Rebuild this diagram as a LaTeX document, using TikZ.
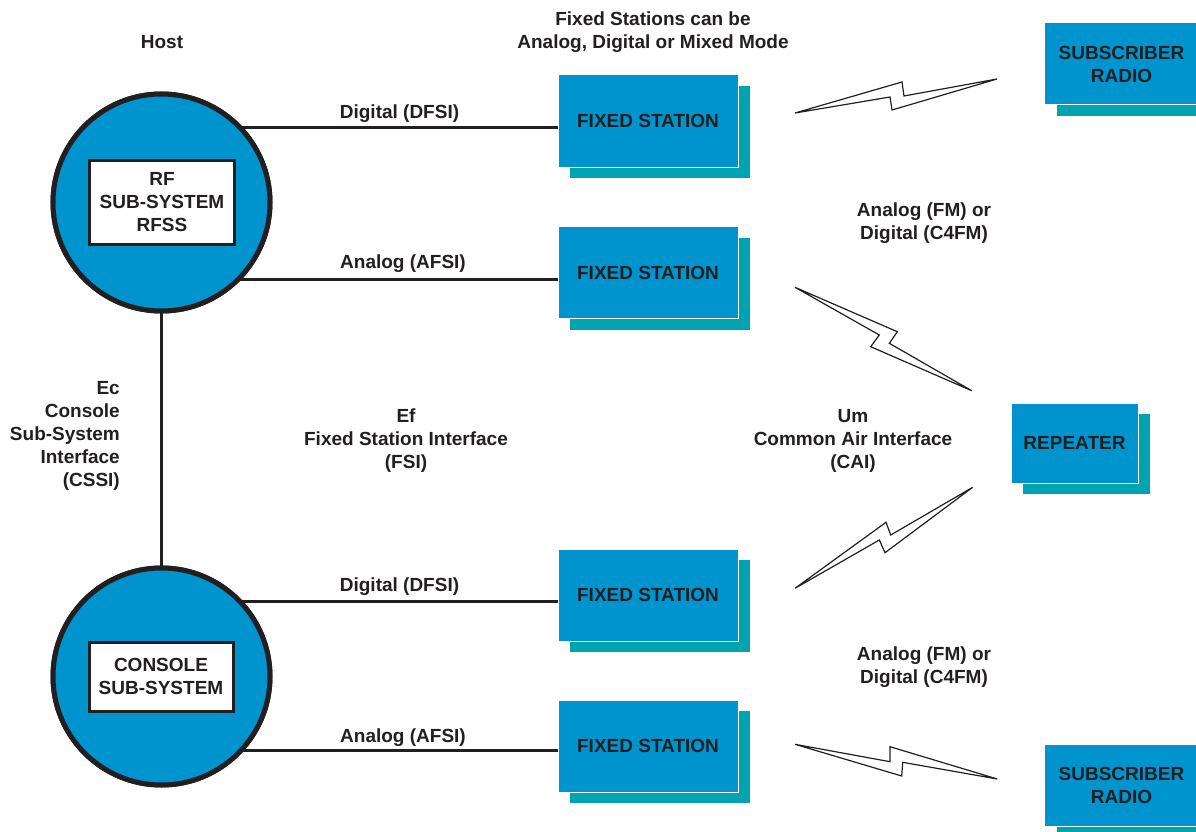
\documentclass[tikz,border=0pt]{standalone}
\usepackage{fontspec}
\setmainfont{Liberation Sans}
\usetikzlibrary{shadows}
\definecolor{pblue}{RGB}{0,148,207}
\definecolor{pteal}{RGB}{0,163,176}
\definecolor{ink}{RGB}{35,31,32}
\begin{document}
\begin{tikzpicture}[x=1pt,y=-1pt,
  font=\fontsize{19}{23}\selectfont\bfseries, text=ink,
  station/.style={rectangle, fill=pblue, draw=white, line width=1pt, inner sep=0pt, outer sep=0pt, align=center,
    drop shadow={opacity=1, fill=pteal, draw=none, shadow xshift=12pt, shadow yshift=-11pt}},
  hub/.style={circle, fill=pblue, draw=ink, line width=5pt, minimum size=217pt, inner sep=0pt, outer sep=0pt},
  inbox/.style={rectangle, fill=white, draw=ink, line width=3pt, inner sep=0pt, outer sep=0pt, align=center},
  link/.style={draw=ink, line width=3pt},
  bolt/.style={draw=ink, line width=1.2pt, line join=miter},
  lbl/.style={align=center, inner sep=0pt}]
\useasboundingbox (0,0) rectangle (1196,832);

% stations and radios
\node[station, minimum width=180pt, minimum height=92pt] (fs1) at (648,121) {FIXED STATION};
\node[station, minimum width=180pt, minimum height=92pt] (fs2) at (648,272.5) {FIXED STATION};
\node[station, minimum width=180pt, minimum height=92pt] (fs3) at (648,595) {FIXED STATION};
\node[station, minimum width=180pt, minimum height=92pt] (fs4) at (648,746) {FIXED STATION};
\node[station, minimum width=154pt, minimum height=82pt] (sr1) at (1121.5,64) {SUBSCRIBER\\RADIO};
\node[station, minimum width=154pt, minimum height=82pt] (sr2) at (1121.5,785) {SUBSCRIBER\\RADIO};
\node[station, minimum width=127pt, minimum height=80pt] (rep) at (1074.5,443) {REPEATER};

% hubs
\node[hub] (rfss) at (161.5,202.5) {};
\node[hub] (css) at (161.5,676.5) {};

% connectors
\draw[link] (rfss.44) -- (rfss.44 -| fs1.west);
\draw[link] (rfss.-45) -- (rfss.-45 -| fs2.west);
\draw[link] (css.44) -- (css.44 -| fs3.west);
\draw[link] (css.-43.5) -- (css.-43.5 -| fs4.west);
\draw[link] (rfss.south) -- (css.north);

% redraw hubs on top of connector ends
\node[hub] at (161.5,202.5) {};
\node[hub] at (161.5,676.5) {};
\node[inbox, minimum width=145pt, minimum height=84pt] (rfbox) at (162,202.5) {RF\\SUB-SYSTEM\\RFSS};
\node[inbox, minimum width=144pt, minimum height=69pt] (cbox) at (161,676.5) {CONSOLE\\SUB-SYSTEM};

% lightning bolts
\draw[bolt] (795,113) -- (902,82) -- (904,96) -- (997,79) -- (892,110) -- (890,97) -- cycle;
\draw[bolt] (795,287.3) -- (897.3,331.7) -- (889.3,343.3) -- (971.7,390.7) -- (870.7,346.7) -- (879.3,335) -- cycle;
\draw[bolt] (795,588.3) -- (886,522.3) -- (890.7,535) -- (972.7,487.3) -- (885,552.7) -- (879.3,540) -- cycle;
\draw[bolt] (795,744.3) -- (890,761.7) -- (890,746.7) -- (997.3,779) -- (902.7,762.3) -- (901.7,776) -- cycle;

% labels
\node[lbl] (host) at (162,42) {Host};
\node[lbl] (fsnote) at (653,32) {Fixed Stations can be\\Analog, Digital or Mixed Mode};
\node[lbl] (l1) at (399.5,114) {Digital (DFSI)};
\node[lbl] (l2) at (403,264) {Analog (AFSI)};
\node[lbl] (l3) at (399.5,587) {Digital (DFSI)};
\node[lbl] (l4) at (403,738) {Analog (AFSI)};
\node[lbl] (am1) at (924,223) {Analog (FM) or\\Digital (C4FM)};
\node[lbl] (am2) at (924,667) {Analog (FM) or\\Digital (C4FM)};
\node[lbl, align=right, anchor=east] (ec) at (120,436) {Ec\\Console\\Sub-System\\Interface\\(CSSI)};
\node[lbl] (ef) at (406,441) {Ef\\Fixed Station Interface\\(FSI)};
\node[lbl] (um) at (853,441) {Um\\Common Air Interface\\(CAI)};
\end{tikzpicture}
\end{document}
